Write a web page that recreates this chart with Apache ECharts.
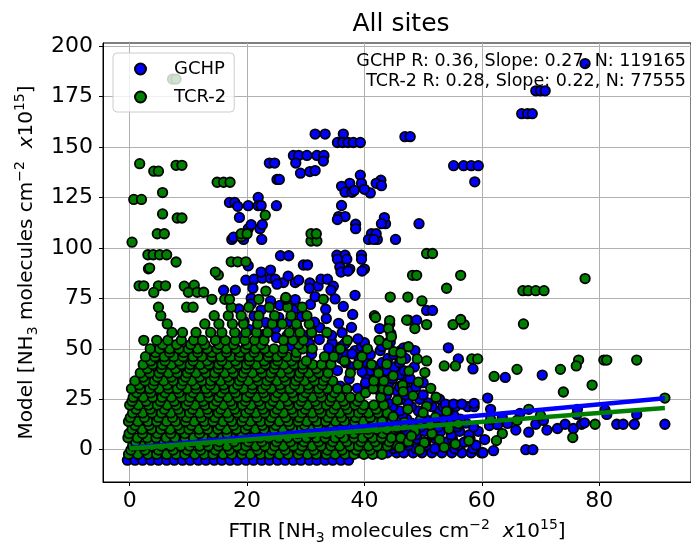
<!DOCTYPE html>
<html><head><meta charset="utf-8">
<script src="https://cdn.jsdelivr.net/npm/echarts@6/dist/echarts.min.js"></script>
<style>html,body{margin:0;padding:0;background:#fff}#c{width:691px;height:550px}</style>
</head><body><div id="c"></div>
<script>
const xTicks = [0, 20, 40, 60, 80];
const yTicks = [0, 25, 50, 75, 100, 125, 150, 175, 200];
const seriesNames = ['GCHP', 'TCR-2'];
const titleText = 'All sites';
const statsText = ['GCHP R: 0.36, Slope: 0.27, N: 119165', 'TCR-2 R: 0.28, Slope: 0.22, N: 77555'];
const gchpFit = { intercept: 0.9, slope: 0.27, xStart: 0, xEnd: 91.2 };
const tcrFit = { intercept: 0.6, slope: 0.22, xStart: 0, xEnd: 91.2 };

// GCHP rows: [y, [x values]]
const gchpRows = [
 [-5.2, [-0.4,0.9,2.2,3.6,4.9,6.3,7.6,9.0,10.3,11.7,13.0,14.4,15.7,17.1,18.4,19.8,21.1,22.5,23.8,25.2,26.5,27.9,29.2,30.6,31.9,33.3,34.6,36.0,37.3]],
 [-1.5, [37.5,39.0,40.5,42.2,43.9,45.5,46.7,48.3,49.8,51.5,53.2,54.9,56.6,58.2,59.9]],
 [0.5, [38.8,41.7,45.0,48.8,52.0,55.4,58.5]],
 [2.2, [38.1,41.0,44.5,47.5,50.5,53.5,56.0,59.0]],
 [3.7, [40.5,44.0,47.0,50.4,53.8,57.0]],
 [5.4, [43.2,46.1,49.0,52.1,55.0,58.0]],
 [7.3, [42.5,45.6,48.8,51.6,54.8,57.8]],
 [9.1, [44.0,47.3,50.2,53.0,56.2,59.4]],
 [11.2, [43.5,46.6,49.6,52.6,55.8,58.6]],
 [13.2, [45.1,48.0,51.0,54.5,57.3]],
 [15.2, [44.2,47.2,50.4,53.4,56.3]],
 [17.1, [43.6,46.5,49.8,52.4,55.2]],
 [19.2, [43.0,46.0,49.2,52.8,54.3]],
 [21.3, [44.8,48.0,51.5,53.4,55.5,57.6,58.7]],
 [23.2, [44.0,47.4,50.8]],
 [25.0, [43.0,46.2,49.4,52.8]],
 [27.1, [43.8,47.0,50.0]],
 [29.1, [42.6,45.5,48.0]],
 [31.2, [43.0,46.0,48.8]],
 [33.2, [41.5,44.2,47.0,50.0]],
 [35.2, [42.0,44.8,47.8]],
 [37.1, [40.2,43.0,46.0]],
 [39.1, [41.0,43.8,46.8]],
 [41.0, [37.8,42.0,45.1,48.5]],
 [43.1, [40.5,43.0,46.0]],
 [45.2, [36.0,39.3,44.0,47.0]],
 [47.1, [37.0,41.0,45.0]],
 [49.1, [35.0,38.4,42.7,46.2,48.6]],
 [51.1, [36.0,39.5,43.0]],
 [53.0, [34.5,36.8,40.0,44.0]]
];
const gchpScatter = [
 [77.6,191.3],[69.2,177.8],[70.0,177.8],[70.8,177.8],[66.8,166.5],[67.8,166.5],[68.6,166.5],
 [46.9,155.1],[47.8,155.1],[55.2,140.7],[56.9,140.7],[58.2,140.7],[59.4,140.7],[58.8,132.7],
 [42.5,132.3],[42.8,133.5],[43.6,112],[49.3,112],[42.2,104.2],[45.3,104.2],
 [31.6,156.4],[33.3,156.4],[36.4,156.4],[35.4,152.2],[36.3,152.2],[37.2,152.2],[38.1,152.2],[39.3,152.2],
 [27.9,145.8],[28.8,145.8],[30.2,145.8],[31.9,145.8],[33.1,145.8],[28.3,142],[33,143],[23.8,142],[24.7,142],
 [29.1,137],[30.7,137.8],[31.6,138.3],[25.1,133.9],[25.5,133.9],
 [39.3,136],[39.5,132],[37.5,132],[36.1,130.5],[36.7,127.6],[37.9,127.5],[41,127.2],[42,132],[42.9,130.8],[38.3,128.5],[40,129],
 [21.9,125],[17,122.5],[17.9,122.5],[18.4,120.6],[18.7,115.1],[20.2,120.9],[21.9,120.9],[25,120.9],[22.4,121],
 [20.2,109.5],[22.2,109.5],[22.5,104.2],[17.4,104.2],[19.4,104.2],[17.7,105.3],[20.7,111.5],[22.6,111.5],
 [36.1,121],[35.6,115.5],[36.7,115.5],[35.4,114],[38.5,111.7],[38.5,109.5],[41.2,107],[42,107],[43.4,115],[42.9,112],[40.7,104.2],[41.6,104.2],
 [20.2,91.1],[25.7,96.1],[27.1,96.1],[29.6,91.5],[30.3,91.5],
 [35.3,96.4],[36.7,96.4],[39.5,96.4],[35.4,94.4],[37,94.4],[39.5,94.4],[35.8,90.5],[37.5,89.5],[40,89.5],
 [19.8,84],[21.2,84.5],[22.6,85],[24,85],[24.8,84.5],[26.2,82.8],[28.2,82.8],[28.8,84],[30.7,82.6],[32.1,81],[32.6,84.5],[33.7,84.5],[34.7,81],
 [16,79],[18,79],[20.7,75],[21,80],[22.4,88],[24,89],[25.1,82],[27,86],[30.6,80],[34.3,79],[36,88],[37.2,88.5],[39.6,88.5],
 [18.5,56],[20.4,59.5],[22.7,57],[24.9,60.2],[26.8,56.5],[28.6,60],[30.5,57],[32.4,60.5],[34.4,56.6],[36.2,58],
 [19.5,63.5],[21.2,66.2],[23.2,63],[25.4,65.6],[27.2,63.5],[29.3,66],[31.5,63.2],[33.5,65],[35.6,62.6],[37.8,60.6],
 [18.6,69.7],[20.7,72.2],[22.4,69.2],[25.6,71.5],[27.9,69.4],[30.8,72],[33.4,69.6],[36.4,71],[38,67],
 [24,73.7],[28.2,74.4],[31.6,75.8],[35,74.7],[38.4,76.5],
 [35.9,31.5],[37.4,35],[38.8,30.4],[35.4,39.2],[36.8,43.1],[34.2,46.6],[39.6,38.6],[40.2,33.2],[37.9,47.5],[39.1,44.6],
 [31.0,47.4],[33.9,50.3],[30.6,52.6],[32.3,54.6],[27.6,51.2],[25.0,55.6],[36.6,52.3],[38.9,54.9],
 [44.5,57.5],[47.5,64.2],[48.9,64.2],[42.6,60],[44.4,53.2],[46.7,50.5],[50.6,69],[51.6,69],[54.3,50.5],[56,45],[58.5,40],
 [53.8,22.6],[55.2,22.6],[56.6,22.6],[58.7,23],[61,25.6],[64,35.8],[70.3,37],
 [91.2,12.6],[86.4,17.5],[83,12.6],[84.1,12.6],[86,12.6],[81,19.7],[81.3,17.5],[71.1,9.7],[72.9,10.5],[74.2,12.6],[75.6,10.5],[77,12.6],[77.5,13.3],[76.2,17.5],[76.3,20],
 [61.3,12],[62.7,12.4],[64.4,13],[65.8,9.7],[68,8.7],[69.2,12.6],[67.5,0],[68.7,0],[60.5,5],[62,-0.5],[63.5,16],[66.5,18],[70.5,14.5],[60.2,-1.5],[61.5,20]
];

// TCR-2 rows: [y, [x values]]
const tcrRows = [
 [-2.3, [-0.2,1.4,3.1,4.6,6.3,7.9,9.4,11.1,12.7,14.2,15.9,17.4,19.1,20.6,22.3,23.8,25.5,27.0,28.7,30.3,31.8,33.5,35.0,36.7,38.2,39.9,41.4,43.0]],
 [-0.2, [0.2,2.6,4.9,7.4,9.8,12.1,14.6,17.0,19.3,21.8,24.2,26.5,29.0,31.4,33.7,36.2,38.6,41.0]],
 [1.8, [0.5,2.2,3.8,5.4,7.0,8.7,10.2,11.9,13.4,15.1,16.6,18.3,19.8,21.5,23.0,24.7,26.2,27.9,29.4,31.1,32.6,34.3,35.8,37.5,39.0,40.7,42.2,43.9,45.6]],
 [3.9, [1.0,3.4,5.8,8.1,10.6,13.0,15.3,17.8,20.2,22.5,25.0,27.4,29.7,32.2,34.6,37.0,39.4,41.8,44.2]],
 [5.9, [-0.3,1.3,3.0,4.5,6.2,7.7,9.4,10.9,12.6,14.1,15.8,17.3,19.0,20.5,22.2,23.7,25.4,26.9,28.6,30.1,31.8,33.3,35.0,36.5,38.2,39.7,41.4,42.9,44.6,46.2]],
 [8.0, [-0.1,2.2,4.7,7.0,9.4,11.9,14.2,16.6,19.1,21.4,23.8,26.3,28.6,31.0,33.5,35.8,38.2,40.7,43.1]],
 [10.1, [0.4,2.1,3.7,5.3,6.9,8.6,10.1,11.8,13.3,15.0,16.5,18.2,19.7,21.4,22.9,24.6,26.1,27.8,29.3,31.0,32.5,34.2,35.7,37.4,38.9,40.6,42.1,43.8,45.3]],
 [12.1, [0.9,3.3,5.7,8.2,10.5,12.9,15.4,17.7,20.1,22.6,24.9,27.3,29.8,32.1,34.5,37.0,39.3,41.7,44.0]],
 [14.0, [-0.2,1.4,3.1,4.6,6.3,7.8,9.5,11.0,12.7,14.2,15.9,17.4,19.1,20.6,22.3,23.8,25.5,27.0,28.7,30.2,31.9,33.4,35.1,36.6,38.3,39.8,41.5,43.0,44.7]],
 [16.0, [0.1,2.5,4.9,7.3,9.7,12.2,14.5,16.9,19.4,21.7,24.1,26.6,28.9,31.3,33.8,36.1,38.5,41.0]],
 [18.2, [0.5,2.2,3.8,5.4,7.0,8.7,10.2,11.9,13.4,15.1,16.6,18.3,19.8,21.5,23.0,24.7,26.2,27.9,29.4,31.1,32.6,34.3,35.8,37.5,39.0,40.7,42.3,43.9]],
 [20.1, [1.1,3.5,5.9,8.3,10.7,13.2,15.5,17.9,20.4,22.7,25.1,27.6,29.9,32.3,34.8,37.1,39.6,42.0]],
 [22.1, [0.0,1.5,3.2,4.7,6.4,7.9,9.6,11.1,12.8,14.3,16.0,17.5,19.2,20.7,22.4,23.9,25.6,27.1,28.8,30.3,32.0,33.5,35.2,36.7,38.4,39.9,41.6,43.3]],
 [24.0, [0.4,2.8,5.2,7.6,10.0,12.5,14.8,17.2,19.7,22.0,24.4,26.9,29.2,31.6,34.1,36.4,38.8]],
 [26.0, [0.6,2.3,3.9,5.5,7.1,8.8,10.3,12.0,13.5,15.2,16.7,18.4,19.9,21.6,23.1,24.8,26.3,28.0,29.5,31.2,32.7,34.4,35.9,37.6,39.2,42.8]],
 [28.2, [1.2,3.6,6.0,8.4,10.8,13.3,15.6,18.0,20.5,22.8,25.2,27.7,30.0,32.4,34.9,40.2]],
 [30.2, [0.3,1.8,3.4,5.0,6.6,8.1,9.8,11.3,13.0,14.5,16.2,17.7,19.4,20.9,22.6,24.1,25.8,27.3,29.0,30.5,32.2,33.7,35.4,37.0,41.5,43.2]],
 [32.1, [1.6,4.0,6.4,8.8,11.2,13.7,16.0,18.4,20.9,23.2,25.6,28.1,30.4,32.8]],
 [34.1, [0.9,2.6,4.2,5.8,7.4,9.1,10.6,12.3,13.8,15.5,17.0,18.7,20.2,21.9,23.4,25.1,26.6,28.3,29.8,31.5,33.0,34.6,41.6,43.3]],
 [36.0, [2.3,4.7,7.1,9.5,11.9,14.4,16.7,19.1,21.6,23.9,26.3,28.8,31.1,33.4]],
 [38.0, [1.8,3.4,5.0,6.6,8.1,9.8,11.3,13.0,14.5,16.2,17.7,19.4,20.9,22.6,24.1,25.8,27.3,29.0,30.5,32.2,33.8,37.6,42.4]],
 [40.1, [3.0,5.4,7.8,10.2,12.6,15.1,17.4,19.8,22.3,24.6,27.0,29.5,31.8]],
 [42.2, [2.3,3.9,5.5,7.1,8.8,10.3,12.0,13.5,15.2,16.7,18.4,19.9,21.6,23.1,24.8,26.3,28.0,29.5,31.2,32.7,34.3,38.9,41.2]],
 [44.0, [3.6,6.0,8.4,10.8,13.2,15.7,18.0,20.4,22.9,25.2,27.6,30.1,36.6]],
 [46.1, [2.7,4.3,5.9,7.5,9.1,10.8,12.3,14.0,15.5,17.2,18.7,20.4,21.9,23.6,25.1,26.8,28.3,33.2,34.8,39.6]],
 [48.2, [4.4,6.8,9.2,11.6,14.0,16.5,18.8,21.2,23.7,26.0,28.4]],
 [50.0, [3.5,5.1,6.8,8.4,10.0,11.6,13.2,14.9,16.5,18.1,19.7,21.4,23.0,24.6,26.2,29.5,31.1,35.9,40.5]],
 [52.1, [5.6,8.0,10.4,12.8,15.2,17.7,20.0,22.4,28.8]],
 [54.2, [2.4,4.6,6.5,8.8,10.9,12.4,14.6,16.3,18.0,19.6,21.3,22.9,26.2,27.8,29.6,37.1,42.5]],
 [58.1, [7.2,9.0,11.3,13.8,15.7,17.9,19.8,21.6,23.5,27.2,29.0,31.0,33.6]],
 [62.3, [6.4,12.8,15.2,17.5,19.4,21.8,24.3,26.0,28.4,30.6,44.3]],
 [66.4, [5.3,14.4,16.8,19.0,22.0,24.7,27.5,30.2,41.7]],
 [70.6, [4.9,9.7,10.8,17.3,20.3,23.8,26.9,29.4]],
 [74.5, [14.0,16.2,17.0,22.0,26.6,33.0]]
];
const tcrScatter = [
 [7.3,183.6],[7.9,183.6],[1.7,141.7],[4.1,138],[4.9,138],[7.9,140.9],[8.9,140.9],[5.6,127.4],[0.7,124],[2.0,124],
 [14.9,132.5],[16.0,132.5],[17.1,132.5],[23.1,116.2],[5.6,116.8],[8.1,114.8],[8.9,114.8],[19.0,105.5],[0.4,102.8],[4.7,107],[5.9,107],
 [3.1,96.6],[4.0,96.6],[5.1,96.6],[6.3,96.6],[3.2,89.6],[7.9,93],[17.3,93.1],[18.4,93.1],[19.8,93.1],[15.1,86.6],
 [30.9,103.4],[31.9,103.4],[30.9,107],[31.8,107],[19.0,107],[20.0,107],[23.2,78.6],[26.6,75.4],
 [1.6,81.2],[2.4,81.2],[4.9,81.2],[6.1,81.2],[4.1,77.9],[9.3,81],[11.0,81.5],[10.0,78],[11.5,78],[12.6,78],[14.6,88],[3.4,90],
 [48.2,86.4],[48.9,86.4],[56.4,86.4],[77.6,84.8],[54.0,80],[67.0,78.8],[67.9,78.8],[69.2,78.8],[70.6,78.8],[50.6,97.2],[51.6,97.2],
 [44.4,75.6],[47.4,75.6],[49.8,73.7],[67.1,62.3],[44.3,64],[44.1,60],[47.2,64.2],[48.6,60],[50.6,62],[55.1,62],[57,62],[56.4,64.5],[41.9,65.5],
 [58.3,45],[59.3,45],[53.6,41.5],[55.5,41.5],[62.1,36.3],[66,39.8],[73.4,39.8],[76.5,44.4],[76.1,41.5],[80.8,44.4],[81.3,44.4],[86.4,44.4],
 [78.8,32],[91.2,25.6],[68,20],[79.3,12.6],[73.9,28.6],[61.5,15],[63.5,8],[66,14.5],[70,17],[75.5,6],[62.5,4.5],
 [47.5,4],[50.2,3.5],[52.8,5],[55.5,2.8],[57.8,4.4],[48.6,9.2],[51.5,8],[54.4,10.2],[46.8,13.5],[49.5,14.6],[52.1,16],
 [47.4,20],[50.6,21.5],[45.6,24.5],[48.3,26.7],[44.1,29.4],[46.5,32],[49.2,33.5],[51.3,30.4],[44.9,36.6],[47.6,39],[50.3,38.2],
 [43.8,42.4],[46.3,44.5],[49,45],[45,48.6],[47.5,51],[43.9,52.3],[50.6,44],[44.6,56],[46.2,48],
 [46.0,1.0],[49.4,-0.2],[53.6,1.2],[48.0,6.8],[45.5,11.0],[51.2,12.2],[56.0,12.8],[44.9,16.4],[50.0,18.3],[54.0,19.0],[46.6,28.8],[52.2,26.0]
];

function rowsToPoints(rows) {
  const out = [];
  rows.forEach(function (r) { r[1].forEach(function (x) { out.push([x, r[0]]); }); });
  return out;
}
function fitLine(f) {
  return [[f.xStart, f.intercept + f.slope * f.xStart], [f.xEnd, f.intercept + f.slope * f.xEnd]];
}

const FONT = 'DejaVu Sans';
const chart = echarts.init(document.getElementById('c'), null, { renderer: 'canvas' });
const nameRich = {
  b: { fontSize: 20, fontFamily: FONT, color: '#000', lineHeight: 27 },
  i: { fontSize: 20, fontFamily: FONT, color: '#000', lineHeight: 27, fontStyle: 'italic' },
  s: { fontSize: 14, fontFamily: FONT, color: '#000', lineHeight: 11, verticalAlign: 'bottom' },
  p: { fontSize: 14, fontFamily: FONT, color: '#000', lineHeight: 11, verticalAlign: 'top' }
};
const markerStyle = function (c) { return { color: c, borderColor: '#000', borderWidth: 1.8, opacity: 1 }; };

chart.setOption({
  animation: false,
  backgroundColor: '#fff',
  grid: { left: 103, top: 43, width: 596, height: 444, show: true, borderColor: '#000', borderWidth: 1, backgroundColor: 'transparent' },
  xAxis: {
    type: 'value', min: -4.55, max: 95.65,
    name: '{b|FTIR [NH}{s|3}{b| molecules cm}{p|−2}{b|  }{i|x}{b|10}{p|15}{b|]}',
    nameLocation: 'middle', nameGap: 36, nameTextStyle: { rich: nameRich },
    axisLine: { show: true, onZero: false, lineStyle: { color: '#000', width: 1 } },
    axisTick: { show: true, customValues: xTicks, length: 4, lineStyle: { color: '#000', width: 1 } },
    axisLabel: { customValues: xTicks, fontSize: 22, fontFamily: FONT, color: '#000', margin: 8 },
    splitLine: { show: true, lineStyle: { color: '#b0b0b0', width: 1 } }
  },
  yAxis: {
    type: 'value', min: -16, max: 201.5,
    name: '{b|Model [NH}{s|3}{b| molecules cm}{p|−2}{b|  }{i|x}{b|10}{p|15}{b|]}',
    nameLocation: 'middle', nameGap: 59, nameTextStyle: { rich: nameRich },
    axisLine: { show: true, onZero: false, lineStyle: { color: '#000', width: 1 } },
    axisTick: { show: true, customValues: yTicks, length: 4, lineStyle: { color: '#000', width: 1 } },
    axisLabel: { customValues: yTicks, fontSize: 22, fontFamily: FONT, color: '#000', margin: 10 },
    splitLine: { show: true, lineStyle: { color: '#b0b0b0', width: 1 } }
  },
  legend: {
    data: seriesNames, orient: 'vertical', left: 113, top: 53, icon: 'circle',
    itemWidth: 11, itemHeight: 11, itemGap: 8, padding: [6, 8, 5, 21],
    backgroundColor: 'rgba(255,255,255,0.8)', borderColor: '#cccccc', borderWidth: 1, borderRadius: 4,
    textStyle: { fontSize: 18, fontFamily: FONT, color: '#000', lineHeight: 20, padding: [0, 0, 0, 23] }
  },
  graphic: [
    { type: 'text', z: 100, x: 401, y: 24, style: { text: titleText, fontSize: 25, fontFamily: FONT, fill: '#000', align: 'center', verticalAlign: 'middle' } },
    { type: 'text', z: 100, x: 686, y: 61, style: { text: statsText[0], fontSize: 17.5, fontFamily: FONT, fill: '#000', align: 'right', verticalAlign: 'middle' } },
    { type: 'text', z: 100, x: 686, y: 81, style: { text: statsText[1], fontSize: 17.5, fontFamily: FONT, fill: '#000', align: 'right', verticalAlign: 'middle' } }
  ],
  series: [
    { name: seriesNames[0], type: 'scatter', symbol: 'circle', symbolSize: 9.5, itemStyle: markerStyle('#0000ff'),
      data: rowsToPoints(gchpRows).concat(gchpScatter), emphasis: { disabled: true }, z: 2 },
    { name: seriesNames[1], type: 'scatter', symbol: 'circle', symbolSize: 9.5, itemStyle: markerStyle('#008000'),
      data: rowsToPoints(tcrRows).concat(tcrScatter), emphasis: { disabled: true }, z: 2 },
    { name: 'GCHP fit', type: 'line', data: fitLine(gchpFit), showSymbol: false, symbol: 'none',
      lineStyle: { color: '#0000ff', width: 4.5 }, z: 3, silent: true },
    { name: 'TCR-2 fit', type: 'line', data: fitLine(tcrFit), showSymbol: false, symbol: 'none',
      lineStyle: { color: '#008000', width: 4.5 }, z: 3, silent: true }
  ]
});
</script>
</body></html>
